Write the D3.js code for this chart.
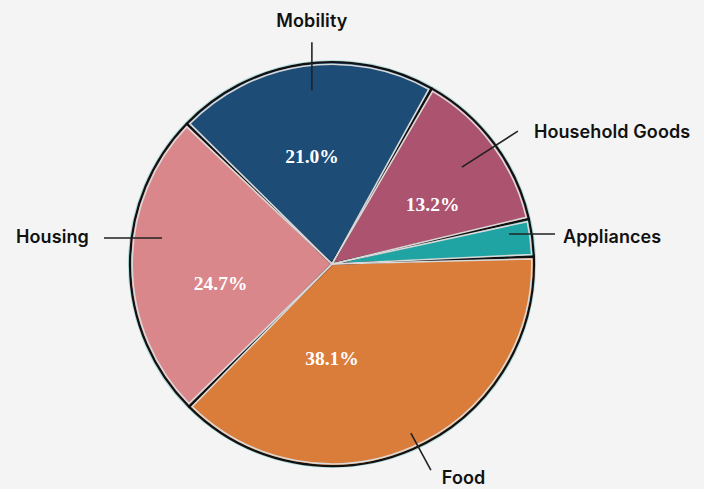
<!DOCTYPE html>
<html><head><meta charset="utf-8">
<script src="https://cdn.jsdelivr.net/npm/d3@7"></script>
<style>
html,body{margin:0;padding:0;background:#f4f4f4;}
svg{display:block;}
</style></head>
<body>
<svg id="chart" width="704" height="489"></svg>
<script>
// ---- data ----
const categories = ["Mobility", "Household Goods", "Appliances", "Food", "Housing"];
const shares = [21.0, 13.2, 3.0, 38.1, 24.7];
const valueLabels = ["21.0%", "13.2%", "3.0%", "38.1%", "24.7%"];
const colors = ["#1d4c77", "#ab536f", "#1fa3a3", "#db7d3a", "#da878c"];

// ---- layout (positions/styles, not data) ----
const W = 704, H = 489;
const cx = 332, cy = 264, R = 202;
const startDeg = -46;
const deg = Math.PI / 180;
// percent label placement (polar: angle deg from 12 o'clock, radius)
const pctPos = {
  "Mobility": [-10.6, 109], "Household Goods": [59.3, 117],
  "Food": [180, 94], "Housing": [260.3, 113]
};
// leader lines: start polar [angle, radius], end offset [dx, dy], label anchor
const leaders = {
  "Mobility": {a: -6.6, r: 175, d: [0, -48], anchor: "middle", t: [0, -22]},
  "Household Goods": {a: 53.3, r: 162, d: [56, -36], anchor: "start", t: [16, 0]},
  "Appliances": {a: 80.4, r: 179.5, d: [46, 0], anchor: "start", t: [8, 2]},
  "Food": {a: 155, r: 186.6, d: [20, 37], anchor: "start", t: [11, 7]},
  "Housing": {a: 278.7, r: 172, d: [-58, 0], anchor: "end", t: [-15, -1]}
};

const svg = d3.select("#chart");
svg.append("rect").attr("width", W).attr("height", H).attr("fill", "#f4f4f4");

const pie = d3.pie().sort(null).value(d => d.v)
  .startAngle(startDeg * deg).endAngle(startDeg * deg + 2 * Math.PI);
const data = categories.map((c, i) => ({c, v: shares[i], col: colors[i], lab: valueLabels[i]}));
const arcs = pie(data);

const g = svg.append("g").attr("transform", `translate(${cx},${cy})`);

// faint cyan halo
g.append("circle").attr("r", R + 1.5).attr("fill", "none")
  .attr("stroke", "#9fd6d6").attr("stroke-width", 1.2).attr("opacity", 0.8);

const arcOuter = d3.arc().innerRadius(0).outerRadius(R);
const arcInner = d3.arc().innerRadius(0).outerRadius(R - 2.2).padAngle(4.4 / R).padRadius(R);

g.selectAll("path.slice").data(arcs).join("path")
  .attr("class", "slice")
  .attr("d", arcOuter)
  .attr("fill", d => d.data.col)
  .attr("stroke", "#111")
  .attr("stroke-width", 2.2)
  .attr("stroke-linejoin", "round");

g.selectAll("path.inner").data(arcs).join("path")
  .attr("class", "inner")
  .attr("d", arcInner)
  .attr("fill", "none")
  .attr("stroke", "#d9d9d9")
  .attr("stroke-width", 1.6);

const polar = (a, r) => [r * Math.sin(a * deg), -r * Math.cos(a * deg)];

// percent labels
g.selectAll("text.pct").data(arcs.filter(d => pctPos[d.data.c])).join("text")
  .attr("class", "pct")
  .attr("x", d => polar(...pctPos[d.data.c])[0])
  .attr("y", d => polar(...pctPos[d.data.c])[1])
  .attr("text-anchor", "middle").attr("dominant-baseline", "central")
  .attr("font-family", "'Liberation Serif', 'DejaVu Serif', serif")
  .attr("font-weight", "bold").attr("font-size", 19.5)
  .attr("fill", "#ffffff")
  .text(d => d.data.lab);

// leader lines + category labels
arcs.forEach(d => {
  const L = leaders[d.data.c];
  const [x0, y0] = polar(L.a, L.r);
  const x1 = x0 + L.d[0], y1 = y0 + L.d[1];
  g.append("line").attr("x1", x0).attr("y1", y0).attr("x2", x1).attr("y2", y1)
    .attr("stroke", "#222").attr("stroke-width", 1.6);
  g.append("text")
    .attr("x", x1 + L.t[0]).attr("y", y1 + L.t[1])
    .attr("text-anchor", L.anchor).attr("dominant-baseline", "central")
    .attr("font-family", "Inter, 'Noto Sans', sans-serif")
    .attr("font-weight", 600).attr("font-size", 18)
    .attr("letter-spacing", 0.1)
    .attr("fill", "#111")
    .text(d.data.c);
});
</script>
</body></html>
